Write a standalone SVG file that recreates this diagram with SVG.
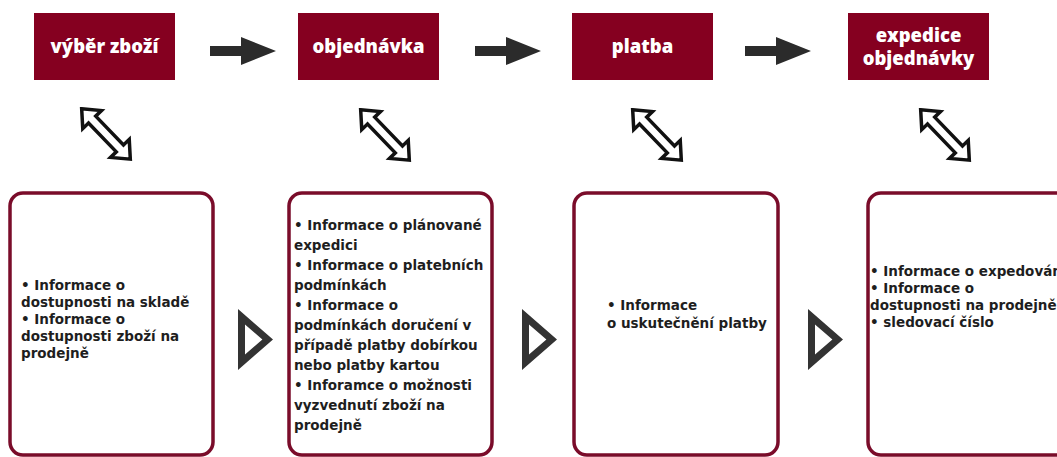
<svg xmlns="http://www.w3.org/2000/svg" xmlns:xlink="http://www.w3.org/1999/xlink" width="1057" height="457" viewBox="0 0 1057 457">
<style>
.head{fill:#850020}
.htxt{fill:#ffffff;font-family:"Open Sans","DejaVu Sans",sans-serif;font-weight:800;font-size:18.5px;text-anchor:middle}
.card{fill:#ffffff;stroke:#7a0c2a;stroke-width:3.5}
.btxt{fill:#1e1e1e;font-family:"DejaVu Sans","Open Sans",sans-serif;font-weight:700;font-size:13.5px}
.flow{fill:#2b2b2b}
.dbl{fill:#ffffff;stroke:#111111;stroke-width:3.5;stroke-linejoin:miter}
.tri{fill:#333333;fill-rule:evenodd}
</style>
<defs>
<path id="rarrow" d="M0,9 H31 V0 L66,14 L31,28 V19 H0 Z"/>
<polygon id="darrow" points="-35,0 -20,-13 -20,-5 20,-5 20,-13 35,0 20,13 20,5 -20,5 -20,13"/>
<path id="tri" d="M0,0 L35,30.5 L0,61 Z M7,15.4 L7,45.6 L24.4,30.5 Z"/>
</defs>
<rect width="1057" height="457" fill="#ffffff"/>

<g id="n-vyber">
<rect class="head" x="34" y="13" width="141" height="67"/>
<text class="htxt" x="104.5" y="53">výběr zboží</text>
</g>
<g id="n-objednavka">
<rect class="head" x="298" y="13" width="141" height="67"/>
<text class="htxt" x="368.5" y="53">objednávka</text>
</g>
<g id="n-platba">
<rect class="head" x="572" y="13" width="141" height="67"/>
<text class="htxt" x="642.5" y="53">platba</text>
</g>
<g id="n-expedice">
<rect class="head" x="848" y="13" width="141" height="67"/>
<text class="htxt" x="918.5" y="42">expedice</text>
<text class="htxt" x="918.5" y="65">objednávky</text>
</g>

<g id="c-vyber">
<rect class="card" x="10" y="193" width="203" height="262" rx="13"/>
<text class="btxt" x="21" y="290">• Informace o</text>
<text class="btxt" x="21" y="307">dostupnosti na skladě</text>
<text class="btxt" x="21" y="324">• Informace o</text>
<text class="btxt" x="21" y="341">dostupnosti zboží na</text>
<text class="btxt" x="21" y="358">prodejně</text>
</g>
<g id="c-objednavka">
<rect class="card" x="289" y="193" width="203" height="262" rx="13"/>
<text class="btxt" x="294" y="230">• Informace o plánované</text>
<text class="btxt" x="294" y="250">expedici</text>
<text class="btxt" x="294" y="270">• Informace o platebních</text>
<text class="btxt" x="294" y="290">podmínkách</text>
<text class="btxt" x="294" y="310">• Informace o</text>
<text class="btxt" x="294" y="330">podmínkách doručení v</text>
<text class="btxt" x="294" y="350">případě platby dobírkou</text>
<text class="btxt" x="294" y="370">nebo platby kartou</text>
<text class="btxt" x="294" y="390">• Inforamce o možnosti</text>
<text class="btxt" x="294" y="410">vyzvednutí zboží na</text>
<text class="btxt" x="294" y="430">prodejně</text>
</g>
<g id="c-platba">
<rect class="card" x="574" y="193" width="204" height="262" rx="13"/>
<text class="btxt" x="607" y="310">• Informace</text>
<text class="btxt" x="607" y="328">o uskutečnění platby</text>
</g>
<g id="c-expedice">
<rect class="card" x="868" y="193" width="204" height="262" rx="13"/>
<text class="btxt" x="870" y="276">• Informace o expedování</text>
<text class="btxt" x="870" y="293">• Informace o</text>
<text class="btxt" x="870" y="310">dostupnosti na prodejně</text>
<text class="btxt" x="870" y="327">• sledovací číslo</text>
</g>

<g id="connectors">
<use xlink:href="#rarrow" class="flow" transform="translate(210,37)"/>
<use xlink:href="#rarrow" class="flow" transform="translate(475,37)"/>
<use xlink:href="#rarrow" class="flow" transform="translate(745,37)"/>
<use xlink:href="#darrow" class="dbl" transform="translate(106,134) rotate(46)"/>
<use xlink:href="#darrow" class="dbl" transform="translate(385,135) rotate(46)"/>
<use xlink:href="#darrow" class="dbl" transform="translate(657,135) rotate(46)"/>
<use xlink:href="#darrow" class="dbl" transform="translate(945,135) rotate(46)"/>
<use xlink:href="#tri" class="tri" transform="translate(238,309)"/>
<use xlink:href="#tri" class="tri" transform="translate(522,309)"/>
<use xlink:href="#tri" class="tri" transform="translate(808,309)"/>
</g>
</svg>
